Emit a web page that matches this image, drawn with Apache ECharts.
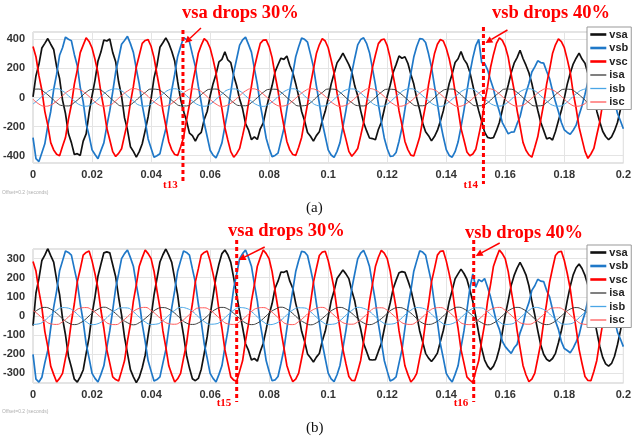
<!DOCTYPE html>
<html>
<head>
<meta charset="utf-8">
<script src="https://cdn.jsdelivr.net/npm/echarts@6/dist/echarts.min.js"></script>
<style>
  html, body { margin: 0; padding: 0; background: #fff; }
  #chart { width: 634px; height: 443px; }
</style>
</head>
<body>
<div id="chart"></div>
<script>
// sampling of the traces
const STEP_V = 0.001; // voltages, one value per 1 ms
const STEP_I = 0.002; // currents, one value per 2 ms

// (a) source voltages
const aVsa = [
  5,150,228,340,372,405,366,330,212,130,-18,-110,-248,-310,-392,-386,-398,-300,-250,-105,
  12,118,250,312,395,388,402,310,246,108,10,-140,-222,-338,-370,-410,-372,-318,-228,-132,
  -8,135,222,345,376,410,372,318,250,110,-12,-95,-160,-245,-262,-300,-258,-240,-150,-96,
  10,95,160,245,262,314,258,240,150,80,-10,-78,-180,-222,-290,-270,-288,-215,-175,-80,
  5,82,176,225,270,262,285,220,172,95,8,-96,-160,-240,-266,-300,-262,-236,-160,-95,
  -5,92,165,238,268,305,265,226,176,80,12,-90,-172,-228,-278,-282,-290,-220,-170,-82,
  8,84,172,226,285,270,280,235,160,92,-6,-84,-176,-235,-262,-298,-268,-226,-164,-92,
  4,96,162,240,266,316,262,232,174,84,-10,-92,-164,-238,-274,-280,-276,-228,-172,-86,
  6,86,170,236,274,325,268,222,170,96,2,-88,-170,-226,-284,-276,-292,-234,-160,-90,
  -4,92,166,230,270,305,264,236,165,85,8,-94,-166,-232,-268,-290,-270,-228,-172,-84,
  5
];
const aVsb = [
  -275,-420,-440,-380,-318,-195,-96,55,160,290,342,415,400,390,296,218,70,-30,-180,-262,
  -360,-392,-420,-365,-312,-196,-92,38,175,268,366,392,420,370,310,196,92,-52,-160,-285,
  -348,-410,-400,-386,-296,-214,-78,50,160,282,350,410,398,382,296,212,78,-36,-175,-268,
  -362,-396,-415,-368,-312,-198,-92,36,172,266,360,396,415,365,312,198,90,-50,-160,-280,
  -350,-406,-398,-382,-298,-212,-80,48,162,280,348,408,400,380,298,210,80,-38,-172,-266,
  -360,-395,-412,-370,-310,-200,-90,40,170,270,362,398,410,372,308,200,88,-46,-164,-278,
  -352,-404,-402,-378,-300,-208,-82,46,164,278,350,404,402,378,300,208,82,-40,-170,-270,
  -358,-398,-410,-372,-306,-202,-88,42,168,272,356,400,240,235,190,120,58,-30,-96,-172,
  -210,-250,-238,-236,-180,-132,-45,30,96,175,210,252,240,236,180,130,46,-30,-96,-172,
  -222,-240,-252,-225,-190,-120,-56,22,108,162,222,240,255,222,190,120,56,-22,-108,-160,
  -215
];
const aVsc = [
  350,280,150,50,-95,-190,-310,-360,-390,-400,-335,-275,-150,-50,92,190,308,360,410,385,
  340,262,170,35,-76,-210,-290,-372,-405,-384,-352,-260,-170,-36,76,210,290,372,392,398,
  352,274,158,48,-90,-194,-304,-360,-392,-398,-340,-274,-156,-48,90,194,304,360,405,386,
  340,262,170,36,-78,-206,-292,-372,-410,-386,-350,-262,-170,-38,78,206,292,372,394,396,
  350,274,156,48,-88,-196,-302,-360,-392,-398,-342,-274,-158,-46,88,194,302,362,404,388,
  342,258,168,30,-72,-206,-286,-370,-404,-380,-350,-264,-172,-38,84,206,292,370,396,402,
  356,272,152,46,-92,-190,-302,-358,-396,-402,-338,-272,-158,-52,88,198,300,366,398,388,
  338,266,170,38,-78,-212,-292,-374,-400,-388,-356,-262,-164,-32,74,206,296,372,410,392,
  350,276,158,50,-88,-196,-308,-362,-394,-410,-342,-270,-156,-46,92,192,302,362,402,384,
  342,262,172,34,-74,-204,-288,-370,-418,-388,-350,-258,-168,-40,78,210,290,374,396,398,
  348
];
// (a) currents
const aIsa = [
  57,58,34,1,-36,-56,-58,-34,-1,36, 56,57,36,0,-34,-58,-57,-35,1,34,
  58,56,35,-1,-35,-57,-58,-34,0,36, 57,58,34,1,-36,-56,-57,-35,-1,35,
  56,57,36,0,-34,-58,-56,-36,1,34, 58,57,35,-1,-35,-56,-58,-34,0,36,
  57,56,34,1,-36,-57,-57,-35,-1,35, 56,58,36,0,-34,-57,-56,-36,1,34,
  58,57,35,-1,-35,-58,-57,-34,0,36, 57,56,34,1,-36,-56,-58,-35,-1,35,
  57
];
const aIsb = [
  -45,-12,24,52,60,45,12,-24,-52,-60, -44,-13,25,51,59,46,11,-23,-53,-59,
  -45,-11,24,52,60,44,13,-24,-51,-60, -46,-12,23,53,59,45,12,-25,-52,-61,
  -44,-13,24,51,60,46,11,-24,-53,-59, -45,-12,25,52,59,45,13,-23,-52,-60,
  -46,-11,24,53,60,44,12,-24,-51,-61, -44,-12,23,52,61,45,11,-25,-52,-59,
  -45,-13,24,51,60,46,12,-24,-53,-60, -46,-12,25,52,59,45,13,-23,-52,-60,
  -45
];
const aIsc = [
  -12,-45,-60,-52,-24,12,45,60,52,24, -11,-46,-59,-53,-23,13,44,61,51,25,
  -12,-44,-60,-52,-25,11,46,59,52,24, -13,-45,-61,-51,-24,12,45,60,53,23,
  -12,-46,-59,-52,-23,13,44,60,52,25, -11,-45,-60,-53,-24,12,46,61,51,24,
  -12,-44,-60,-52,-25,11,45,59,52,23, -13,-45,-61,-51,-24,12,44,60,53,24,
  -12,-46,-59,-52,-23,13,45,60,52,25, -11,-45,-60,-53,-24,12,46,59,51,24,
  -12
];

// (b) source voltages
const bVsa = [
  -50,120,195,290,318,352,315,282,190,112,-12,-98,-210,-268,-330,-345,-318,-282,-195,-110,
  8,100,208,270,330,335,330,268,205,98,6,-110,-195,-280,-318,-348,-320,-270,-205,-100,
  -6,110,196,282,320,350,318,280,195,110,-8,-100,-205,-272,-328,-338,-326,-278,-196,-108,
  5,102,204,272,326,345,320,280,198,110,20,-60,-145,-180,-230,-222,-236,-185,-142,-70,
  8,65,145,182,230,228,236,182,145,66,6,-80,-132,-198,-218,-240,-215,-196,-130,-80,
  -5,78,132,196,218,240,220,195,132,78,-6,-68,-144,-185,-228,-230,-228,-185,-144,-68,
  6,68,142,186,226,232,228,186,140,70,4,-78,-135,-195,-220,-238,-218,-194,-134,-76,
  -4,76,134,194,220,245,222,192,136,76,-4,-90,-170,-230,-262,-280,-262,-226,-170,-86,
  5,80,160,212,250,280,250,215,158,78,5,-76,-150,-200,-226,-236,-222,-195,-140,-76,
  -3,82,155,215,252,272,248,212,160,85,-3,-82,-158,-216,-250,-262,-248,-210,-150,-78,
  4
];
const bVsb = [
  -200,-330,-345,-320,-245,-180,-62,45,130,236,288,340,332,318,246,176,64,-28,-146,-220,
  -300,-326,-345,-305,-260,-165,-78,30,145,220,300,326,345,305,260,164,78,-42,-132,-234,
  -288,-340,-332,-318,-246,-176,-64,42,132,234,288,340,332,318,246,176,64,-30,-145,-220,
  -300,-326,-345,-305,-260,-164,-78,30,145,220,300,326,345,305,260,165,78,-42,-132,-234,
  -290,-338,-334,-316,-248,-174,-66,40,134,232,290,338,334,316,248,174,66,-32,-143,-222,
  -298,-328,-343,-307,-258,-166,-76,32,143,222,298,328,343,307,258,166,76,-40,-134,-232,
  -288,-340,-332,-318,-246,-176,-64,42,132,234,288,340,334,318,246,176,64,-30,-145,-220,
  -300,-326,-345,-305,-260,-164,-78,30,145,220,150,190,180,196,150,100,35,-30,-70,-132,
  -160,-178,-195,-166,-148,-88,-46,26,70,134,158,192,182,180,134,100,34,-26,-70,-134,
  -170,-180,-192,-168,-135,-100,-34,15,84,120,170,180,195,168,146,90,45,-15,-84,-120,
  -160
];
const bVsc = [
  285,235,130,45,-80,-160,-262,-305,-345,-326,-300,-220,-146,-30,64,178,245,318,332,340,
  288,220,145,30,-64,-176,-246,-318,-332,-340,-288,-234,-130,-42,78,164,260,305,345,326,
  300,234,132,42,-78,-164,-260,-305,-345,-328,-300,-220,-146,-30,64,178,246,318,332,340,
  288,220,145,30,-64,-176,-246,-318,-335,-340,-288,-234,-130,-42,78,164,260,305,345,326,
  298,232,134,40,-76,-166,-258,-307,-343,-330,-298,-222,-144,-32,66,176,248,316,334,338,
  290,222,143,32,-66,-174,-248,-316,-337,-338,-290,-232,-132,-40,76,166,258,307,343,328,
  300,234,132,42,-78,-164,-260,-305,-345,-328,-300,-220,-146,-30,64,178,246,318,338,340,
  288,220,145,30,-64,-176,-246,-318,-335,-348,-288,-234,-130,-42,78,164,260,305,345,326,
  298,232,134,40,-76,-166,-258,-307,-343,-330,-298,-222,-144,-32,66,176,248,316,334,338,
  290,222,143,32,-66,-174,-248,-316,-337,-338,-290,-232,-132,-40,76,166,258,307,343,328,
  296
];
// (b) currents
const bIsa = [
  14,36,45,36,14,-14,-36,-45,-36,-14, 15,35,46,35,13,-15,-35,-46,-35,-13,
  14,37,44,36,15,-14,-37,-44,-36,-15, 13,36,45,37,14,-13,-36,-45,-37,-14,
  15,35,46,36,13,-15,-35,-46,-36,-13, 14,36,45,35,14,-14,-36,-45,-35,-14,
  13,37,44,36,15,-13,-37,-44,-36,-15, 14,35,46,37,14,-14,-35,-46,-37,-14,
  15,36,45,36,13,-15,-36,-45,-36,-13, 14,36,44,35,14,-14,-36,-44,-35,-14,
  14
];
const bIsb = [
  -44,-41,-23,5,30,44,41,23,-5,-30, -45,-40,-22,6,31,43,42,22,-6,-31,
  -44,-42,-24,4,29,45,40,24,-4,-29, -43,-41,-23,5,30,44,41,23,-5,-30,
  -45,-40,-22,6,31,43,42,22,-6,-31, -44,-42,-24,4,29,45,40,24,-4,-29,
  -43,-41,-23,5,30,44,41,23,-5,-30, -45,-40,-22,6,31,43,42,22,-6,-31,
  -44,-42,-24,4,29,45,40,24,-4,-29, -43,-41,-23,5,30,44,41,23,-5,-30,
  -44
];
const bIsc = [
  30,5,-23,-41,-44,-30,-5,23,41,44, 31,6,-22,-42,-45,-29,-4,24,40,45,
  29,4,-24,-40,-43,-31,-6,22,42,43, 30,5,-23,-41,-44,-30,-5,23,41,44,
  31,6,-22,-42,-45,-29,-4,24,40,45, 29,4,-24,-40,-43,-31,-6,22,42,43,
  30,5,-23,-41,-44,-30,-5,23,41,44, 31,6,-22,-42,-45,-29,-4,24,40,45,
  29,4,-24,-40,-43,-31,-6,22,42,43, 30,5,-23,-41,-44,-30,-5,23,41,44,
  30
];

// events (sag instants) and their labels
const eventTimesA = [0.0508, 0.1526];
const eventLabelsA = ['t13', 't14'];
const eventTextsA = ['vsa drops 30%', 'vsb drops 40%'];
const eventTimesB = [0.069, 0.1493];
const eventLabelsB = ['t15', 't16'];
const eventTextsB = ['vsa drops 30%', 'vsb drops 40%'];

const names = ['vsa', 'vsb', 'vsc', 'isa', 'isb', 'isc'];
const colors = ['#111111', '#1f78c8', '#ff0000', '#3c3c3c', '#4aa6e6', '#ff5a5a'];

const chart = echarts.init(document.getElementById('chart'), null, { renderer: 'canvas' });

function toPairs(arr, step) {
  return arr.map((v, i) => [+(i * step).toFixed(3), v]);
}

function makeSeries(gi, volt, curr) {
  const out = [];
  volt.forEach((arr, j) => {
    out.push({
      name: names[j], type: 'line', xAxisIndex: gi, yAxisIndex: gi,
      data: toPairs(arr, STEP_V), symbol: 'none', showSymbol: false,
      lineStyle: { width: 1.7, color: colors[j] }, itemStyle: { color: colors[j] },
      animation: false, z: 2,
    });
  });
  curr.forEach((arr, j) => {
    out.push({
      name: names[j + 3], type: 'line', xAxisIndex: gi, yAxisIndex: gi,
      data: toPairs(arr, STEP_I), symbol: 'none', showSymbol: false, smooth: true,
      lineStyle: { width: 1, color: colors[j + 3] }, itemStyle: { color: colors[j + 3] },
      animation: false, z: 3,
    });
  });
  return out;
}

const labelStyle = { fontSize: 11, fontWeight: 'bold', color: '#333', fontFamily: 'Liberation Sans' };
const gridLine = { lineStyle: { color: '#e4e4e4', width: 1 } };

function xAx(gi) {
  return {
    type: 'value', gridIndex: gi, min: 0, max: 0.2, interval: 0.02,
    axisLine: { show: false }, axisTick: { show: false },
    splitLine: gridLine,
    axisLabel: Object.assign({ margin: 6 }, labelStyle),
  };
}
function yAx(gi, lim, split) {
  return {
    type: 'value', gridIndex: gi, min: -lim, max: lim, splitNumber: split,
    axisLine: { show: false }, axisTick: { show: false },
    splitLine: gridLine,
    axisLabel: Object.assign({ margin: 8, showMinLabel: false, showMaxLabel: false }, labelStyle),
  };
}
function legendAt(top) {
  return {
    data: names.map((n, i) => ({ name: n, lineStyle: { width: i < 3 ? 2.6 : 1.3, color: colors[i] } })),
    orient: 'vertical', left: 587, top: top,
    itemWidth: 16, itemHeight: 10, itemGap: 2.5,
    padding: [2, 3, 2, 2], backgroundColor: '#fff',
    borderColor: '#999', borderWidth: 1, borderRadius: 0,
    itemStyle: { color: 'rgba(0,0,0,0)', borderColor: 'rgba(0,0,0,0)', borderWidth: 0, opacity: 0 },
    textStyle: { fontSize: 11, fontWeight: 'bold', color: '#222', fontFamily: 'Liberation Sans', padding: [0, 0, 0, -2] },
    selectedMode: false,
  };
}

const option = {
  backgroundColor: '#fff',
  animation: false,
  grid: [
    { left: 33, top: 32, width: 593, height: 131, show: true, borderColor: '#c8c8c8', borderWidth: 1, backgroundColor: '#fff' },
    { left: 33, top: 249, width: 593, height: 134, show: true, borderColor: '#c8c8c8', borderWidth: 1, backgroundColor: '#fff' },
  ],
  xAxis: [xAx(0), xAx(1)],
  yAxis: [yAx(0, 450, 4), yAx(1, 350, 7)],
  legend: [legendAt(27), legendAt(245)],
  series: [
    ...makeSeries(0, [aVsa, aVsb, aVsc], [aIsa, aIsb, aIsc]),
    ...makeSeries(1, [bVsa, bVsb, bVsc], [bIsa, bIsb, bIsc]),
  ],
};
chart.setOption(option);

// annotations: dashed event lines, arrows, captions
function arrow(x1, y1, x2, y2) {
  const ang = Math.atan2(y2 - y1, x2 - x1);
  const L = 7, W = 3.5;
  const bx = x2 - L * Math.cos(ang), by = y2 - L * Math.sin(ang);
  return [
    { type: 'line', shape: { x1, y1, x2: bx, y2: by }, style: { stroke: '#ff0000', lineWidth: 1.5 }, z: 120 },
    { type: 'polygon', shape: { points: [[x2, y2],
      [bx + W * Math.sin(ang), by - W * Math.cos(ang)],
      [bx - W * Math.sin(ang), by + W * Math.cos(ang)]] }, style: { fill: '#ff0000' }, z: 120 },
  ];
}

const redBig = 'bold 18.5px "Liberation Serif"';
const redSmall = 'bold 11px "Liberation Serif"';
const g = [];

function events(gi, times, labels, texts, y1, y2, textPos, arrowPos) {
  times.forEach((t, i) => {
    const x = chart.convertToPixel({ xAxisIndex: gi }, t);
    g.push({ type: 'line', shape: { x1: x, y1: y1[i], x2: x, y2: y2 }, style: { stroke: '#ff0000', lineWidth: 3, lineDash: [4, 3] }, z: 110 });
    g.push({ type: 'text', left: x - 20, top: y2 - 4, style: { text: labels[i], fill: '#ff0000', font: redSmall }, z: 110 });
    g.push({ type: 'text', left: textPos[i][0], top: textPos[i][1], style: { text: texts[i], fill: '#ff0000', font: redBig }, z: 110 });
    const a = arrowPos[i];
    g.push(...arrow(x + a[0], a[1], x + 2, a[2]));
  });
}

events(0, eventTimesA, eventLabelsA, eventTextsA, [30, 27], 184,
  [[182, 4], [492, 4]], [[18, 28, 43], [24, 30, 43]]);
events(1, eventTimesB, eventLabelsB, eventTextsB, [240, 240], 402,
  [[228, 222], [465, 224]], [[28, 247, 260], [26, 243, 256]]);

g.push({ type: 'text', left: 306, top: 201, style: { text: '(a)', fill: '#111', font: '15px "Liberation Serif"' } });
g.push({ type: 'text', left: 306, top: 421, style: { text: '(b)', fill: '#111', font: '15px "Liberation Serif"' } });
g.push({ type: 'text', left: 2, top: 190, style: { text: 'Offset=0.2 (seconds)', fill: '#b0b0b0', font: '5px "Liberation Sans"' } });
g.push({ type: 'text', left: 2, top: 409, style: { text: 'Offset=0.2 (seconds)', fill: '#b0b0b0', font: '5px "Liberation Sans"' } });

chart.setOption({ graphic: g });
</script>
</body>
</html>
